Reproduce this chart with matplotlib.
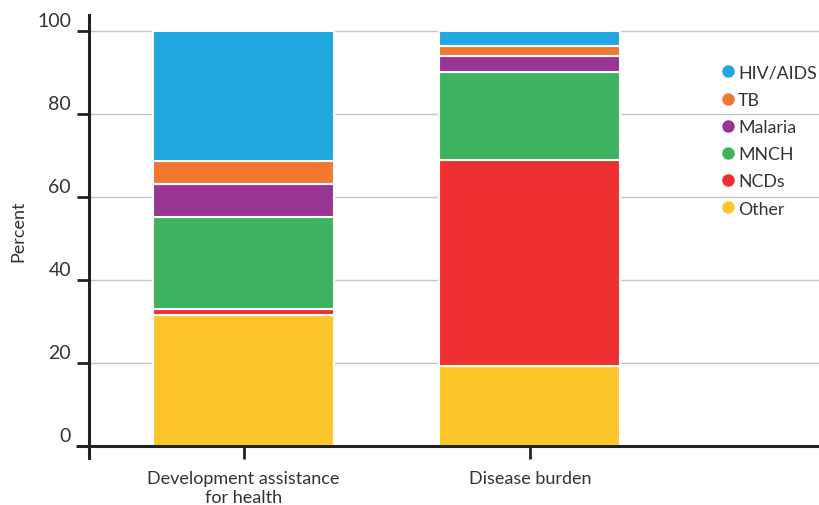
import matplotlib.pyplot as plt
from matplotlib.lines import Line2D
from matplotlib.transforms import ScaledTranslation

plt.rcParams['font.family'] = ['Lato', 'DejaVu Sans']

groups = ['Development assistance\nfor health', 'Disease burden']
causes = ['Other', 'NCDs', 'MNCH', 'Malaria', 'TB', 'HIV/AIDS']
other = [31.6, 19.2]
ncds = [1.5, 49.9]
mnch = [22.1, 21.2]
malaria = [8.1, 3.8]
tb = [5.4, 2.3]
hiv = [31.3, 3.6]
colors = ['#FDC72B', '#EE2F2F', '#3DB360', '#993592', '#F07830', '#22A7E0']

text_col = '#333333'

fig = plt.figure(figsize=(8.19, 5.06), dpi=100)
ax = fig.add_axes([0.1087, 0.1166, 0.8913, 0.852])

x = [0, 1]
bottom = [0, 0]
for vals, col in zip([other, ncds, mnch, malaria, tb, hiv], colors):
    ax.bar(x, vals, bottom=bottom, width=0.633, color=col,
           edgecolor='white', linewidth=1.5, zorder=2)
    bottom = [b + v for b, v in zip(bottom, vals)]

ax.set_xlim(-0.54, 2.01)
ax.set_ylim(0, 104)

ax.set_yticks([0, 20, 40, 60, 80, 100])
ax.yaxis.grid(True, color='#C4C4C4', linewidth=1, zorder=0)
ax.set_axisbelow(True)
ax.tick_params(axis='y', length=9, width=2, color='#222222', pad=4,
               labelsize=14, labelcolor=text_col)
shift = ScaledTranslation(0, 0.055, fig.dpi_scale_trans)
for lab in ax.get_yticklabels():
    lab.set_verticalalignment('baseline')
    lab.set_transform(lab.get_transform() + shift)

ax.set_xticks(x)
ax.set_xticklabels(groups, fontsize=13, color=text_col, linespacing=1.25)
ax.tick_params(axis='x', length=9, width=2, color='#222222', pad=8)

for side in ['top', 'right']:
    ax.spines[side].set_visible(False)
for side in ['left', 'bottom']:
    ax.spines[side].set_linewidth(2.2)
    ax.spines[side].set_color('#222222')
ax.spines['left'].set_bounds(-3, 104)

# bottom spine runs a little past the left axis, like the y ticks
ax.plot([-0.585, -0.54], [0, 0], color='#222222', linewidth=2.2,
        clip_on=False, zorder=3, solid_capstyle='butt')

ax.set_ylabel('Percent', fontsize=13, color=text_col)
ax.yaxis.set_label_coords(-0.086, 0.5)

handles = [Line2D([], [], marker='o', linestyle='none', markersize=8,
                  markerfacecolor=c, markeredgecolor=c)
           for c in colors[::-1]]
leg = fig.legend(handles, causes[::-1], loc='upper left',
                 bbox_to_anchor=(0.871, 0.888), frameon=False,
                 fontsize=12.8, handlelength=0.6, handletextpad=0.3,
                 labelspacing=0.63, borderpad=0)
for t in leg.get_texts():
    t.set_color(text_col)

fig.savefig('out.png', dpi=100)
